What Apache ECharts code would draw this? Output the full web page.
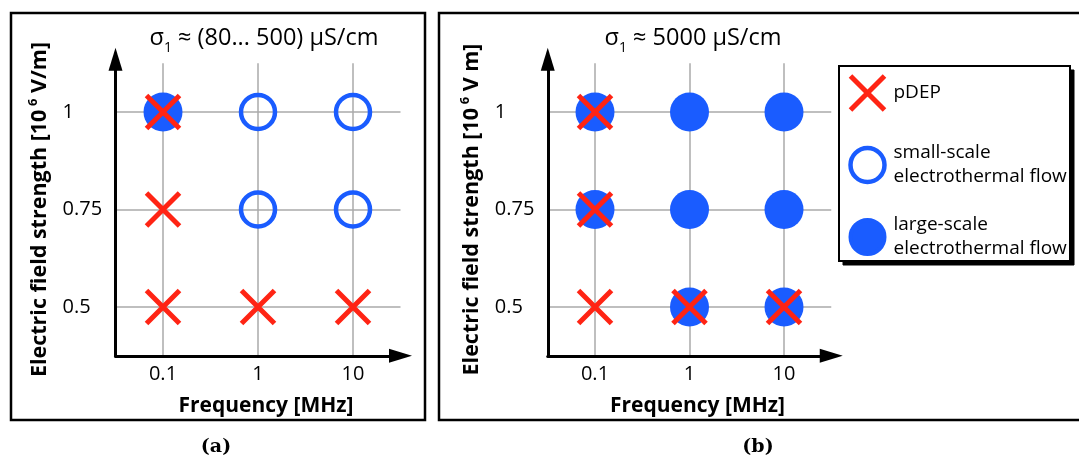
<!DOCTYPE html>
<html>
<head>
<meta charset="utf-8">
<script src="https://cdn.jsdelivr.net/npm/echarts@6/dist/echarts.min.js"></script>
<style>
  html, body { margin: 0; padding: 0; background: #fff; }
  #chart { width: 1079px; height: 461px; }
</style>
</head>
<body>
<div id="chart"></div>
<script>
// Axis categories
const frequencies = ['0.1', '1', '10'];          // MHz
const fieldStrengths = ['0.5', '0.75', '1'];      // 10^6 V/m

// Panel (a): σ1 ≈ (80...500) µS/cm
const pdepA = [['0.1', '1'], ['0.1', '0.75'], ['0.1', '0.5'], ['1', '0.5'], ['10', '0.5']];
const smallFlowA = [['1', '1'], ['10', '1'], ['1', '0.75'], ['10', '0.75']];
const largeFlowA = [['0.1', '1']];

// Panel (b): σ1 ≈ 5000 µS/cm
const pdepB = [['0.1', '1'], ['0.1', '0.75'], ['0.1', '0.5'], ['1', '0.5'], ['10', '0.5']];
const largeFlowB = [['0.1', '1'], ['1', '1'], ['10', '1'],
                    ['0.1', '0.75'], ['1', '0.75'], ['10', '0.75'],
                    ['1', '0.5'], ['10', '0.5']];

const NAME_PDEP = 'pDEP';
const NAME_SMALL = 'small-scale\nelectrothermal flow';
const NAME_LARGE = 'large-scale\nelectrothermal flow';

const RED = '#ff2414';
const BLUE = '#1a5cff';
const FONT = '"Open Sans", "DejaVu Sans", sans-serif';
const CROSS = 'path://M0,0L10,10M10,0L0,10';

function xAxisFor(gridIndex) {
  return {
    type: 'category', gridIndex, data: frequencies, boundaryGap: true,
    axisLine: { show: true, symbol: ['none', 'triangle'], symbolSize: [14, 23],
                lineStyle: { color: '#000', width: 3 } },
    axisTick: { show: false },
    axisLabel: { interval: 0, color: '#000', fontFamily: FONT, fontSize: 20, margin: 9 },
    splitLine: { show: true, interval: 0, alignWithLabel: true,
                 lineStyle: { color: '#aaaaaa', width: 1.5 } },
    name: 'Frequency [MHz]', nameLocation: 'middle', nameGap: 40,
    nameTextStyle: { color: '#000', fontFamily: FONT, fontWeight: 'bold', fontSize: 21,
                     padding: [0, 0, 0, 16] }
  };
}

function yAxisFor(gridIndex, unit) {
  return {
    type: 'category', gridIndex, data: fieldStrengths, boundaryGap: true,
    axisLine: { show: true, symbol: ['none', 'triangle'], symbolSize: [14, 23],
                symbolOffset: [0, 4], lineStyle: { color: '#000', width: 3 } },
    axisTick: { show: false },
    axisLabel: { interval: 0, color: '#000', fontFamily: FONT, fontSize: 20,
                 align: 'left', margin: 53 },
    splitLine: { show: true, interval: 0, alignWithLabel: true,
                 lineStyle: { color: '#aaaaaa', width: 1.5 } },
    name: '{b|Electric field strength [10\u2009}{sup|6}{b| ' + unit + ']}',
    nameLocation: 'middle', nameGap: 63, nameRotate: 90,
    nameTextStyle: {
      color: '#000', fontFamily: FONT, fontWeight: 'bold', fontSize: 21,
      rich: {
        b: { color: '#000', fontFamily: FONT, fontWeight: 'bold', fontSize: 21.5, lineHeight: 26 },
        sup: { color: '#000', fontFamily: FONT, fontWeight: 'bold', fontSize: 13, lineHeight: 13,
               verticalAlign: 'top' }
      }
    }
  };
}

function pdepSeries(gridIndex, data) {
  return {
    name: NAME_PDEP, type: 'scatter', xAxisIndex: gridIndex, yAxisIndex: gridIndex,
    data, symbol: CROSS, symbolSize: 33, z: 4,
    itemStyle: { color: 'transparent', borderColor: RED, borderWidth: 5, opacity: 1 },
    emphasis: { disabled: true }, silent: true
  };
}
function smallSeries(gridIndex, data) {
  return {
    name: NAME_SMALL, type: 'scatter', xAxisIndex: gridIndex, yAxisIndex: gridIndex,
    data, symbol: 'circle', symbolSize: 34, z: 3,
    itemStyle: { color: 'transparent', borderColor: BLUE, borderWidth: 4.5, opacity: 1 },
    emphasis: { disabled: true }, silent: true
  };
}
function largeSeries(gridIndex, data) {
  return {
    name: NAME_LARGE, type: 'scatter', xAxisIndex: gridIndex, yAxisIndex: gridIndex,
    data, symbol: 'circle', symbolSize: 39, z: 2,
    itemStyle: { color: BLUE, opacity: 1 },
    emphasis: { disabled: true }, silent: true
  };
}

const titleRich = {
  s: { font: '23.5px "Open Sans", sans-serif', fill: '#000', lineHeight: 34 },
  sub: { font: '14px "Open Sans", sans-serif', fill: '#000', lineHeight: 12, verticalAlign: 'bottom' }
};

const chart = echarts.init(document.getElementById('chart'), null, { renderer: 'canvas' });

chart.setOption({
  animation: false,
  backgroundColor: '#fff',
  grid: [
    { left: 115.5, top: 63.25, width: 285, height: 292.5, outerBoundsMode: 'none' },
    { left: 547.75, top: 63.25, width: 283.5, height: 292.5, outerBoundsMode: 'none' }
  ],
  xAxis: [xAxisFor(0), xAxisFor(1)],
  yAxis: [yAxisFor(0, 'V/m'), yAxisFor(1, 'V m')],
  // legend items only; its framed box is drawn underneath as graphic rects
  legend: {
    orient: 'vertical', left: 839, top: 66,
    padding: [3, 4, 0, 9],
    itemWidth: 34, itemHeight: 34, itemGap: 24,
    backgroundColor: 'transparent', borderWidth: 0,
    selectedMode: false,
    textStyle: { fontFamily: FONT, fontSize: 19, color: '#000', lineHeight: 24,
                 padding: [0, 0, 0, 4] },
    data: [
      { name: NAME_PDEP, itemStyle: { borderWidth: 5 }, textStyle: { lineHeight: 48 } },
      { name: NAME_SMALL, itemStyle: { borderWidth: 4.5 } },
      { name: NAME_LARGE, itemStyle: { borderColor: BLUE, borderWidth: 4 } }
    ]
  },
  series: [
    largeSeries(0, largeFlowA), smallSeries(0, smallFlowA), pdepSeries(0, pdepA),
    largeSeries(1, largeFlowB), pdepSeries(1, pdepB)
  ],
  graphic: {
    elements: [
      { type: 'rect', silent: true, shape: { x: 11, y: 13, width: 414, height: 407 },
        style: { fill: 'none', stroke: '#000', lineWidth: 2.5 } },
      { type: 'rect', silent: true, shape: { x: 439, y: 13, width: 700, height: 407 },
        style: { fill: 'none', stroke: '#000', lineWidth: 2.5 } },
      // legend frame: offset black shadow, then the white box with its border
      { type: 'rect', silent: true, shape: { x: 843, y: 70, width: 231, height: 195 },
        style: { fill: '#000', stroke: '#000', lineWidth: 1 } },
      { type: 'rect', silent: true, shape: { x: 839, y: 66, width: 231, height: 195 },
        style: { fill: '#fff', stroke: '#000', lineWidth: 2 } },
      { type: 'text', silent: true, x: 264, y: 38,
        style: { text: '{s|σ}{sub|1}{s| ≈ (80... 500) μS/cm}', rich: titleRich,
                 align: 'center', verticalAlign: 'middle' } },
      { type: 'text', silent: true, x: 693, y: 38,
        style: { text: '{s|σ}{sub|1}{s| ≈ 5000 μS/cm}', rich: titleRich,
                 align: 'center', verticalAlign: 'middle' } },
      { type: 'text', silent: true, x: 216, y: 447,
        style: { text: '(a)', font: 'bold 19px "DejaVu Serif", serif', fill: '#000',
                 align: 'center', verticalAlign: 'middle' } },
      { type: 'text', silent: true, x: 758, y: 447,
        style: { text: '(b)', font: 'bold 19px "DejaVu Serif", serif', fill: '#000',
                 align: 'center', verticalAlign: 'middle' } }
    ]
  }
});
</script>
</body>
</html>
